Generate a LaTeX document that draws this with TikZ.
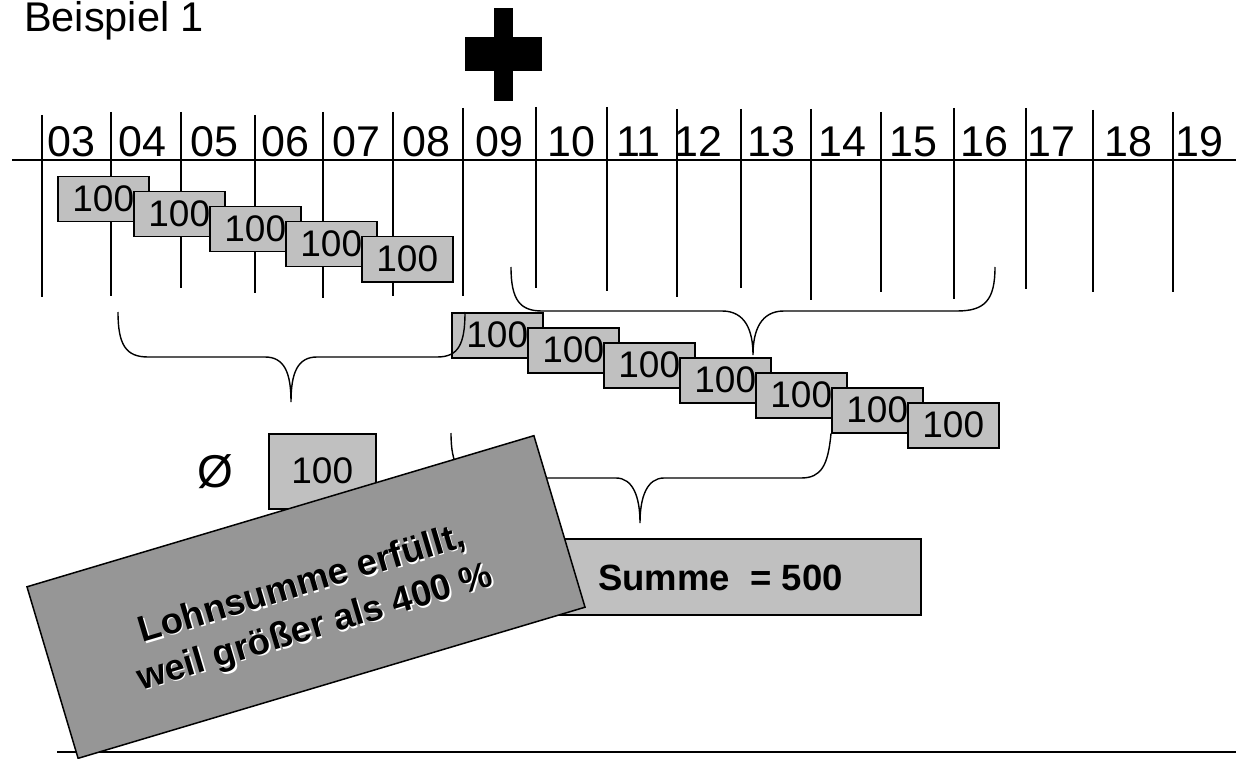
\documentclass[tikz,border=0pt]{standalone}
\usepackage{fontspec}
\setmainfont{Liberation Sans}
\usetikzlibrary{positioning}
\definecolor{boxgray}{HTML}{C0C0C0}
\definecolor{notegray}{HTML}{969696}
\newcommand{\titlesize}{\fontsize{41.5}{48}\selectfont}
\newcommand{\labsize}{\fontsize{43}{50}\selectfont}
\newcommand{\numsize}{\fontsize{37}{44}\selectfont}
\newcommand{\boldsize}{\fontsize{36.5}{45}\selectfont\bfseries}
\tikzset{tickline/.style = {line width=1.4pt}}
\tikzset{bracecurve/.style = {line width=1.4pt}}
\tikzset{numbox/.style = {draw, fill=boxgray, line width=1.5pt, minimum width=91pt, minimum height=45pt, inner sep=0, anchor=north west, font=\numsize}}
\tikzset{notebox/.style = {draw, fill=notegray, line width=1.5pt, minimum width=529pt, minimum height=179pt, inner sep=0}}
\tikzset{notetext/.style = {align=center, inner sep=0, font=\boldsize, rotate=16.6}}

\begin{document}
\begin{tikzpicture}[x=1pt,y=-1pt]
        \useasboundingbox (0,0) rectangle (1236,759);
        \node [anchor=base west, inner sep=0, font=\titlesize] (title) at (24,32) {Beispiel 1};
        % plus sign
        \fill (494,8) rectangle (513,101);
        \fill (465,37) rectangle (542,71);
        % time line
        \foreach \x/\t/\b/\lx/\lab in {42/115/297/47/03, 111/112/296/118/04, 181/112/288/190/05, 255/115/293/261/06,
            323/112/298/332/07, 393/112/296/402/08, 463/108/296/475/09, 536/107/288/547/10, 607/107/291/616/11,
            677/109/297/674/12, 741/109/288/747/13, 811/109/300/818/14, 881/112/292/889/15, 954/108/299/960/16,
            1026/108/289/1027/17, 1093/110/292/1104/18, 1173/112/292/1175/19}
        {
            \draw [tickline] (\x,\t) -- (\x,\b);
            \node [anchor=base west, inner sep=0, font=\labsize] (l\lab) at (\lx,157) {\lab};
        }
        \draw [tickline] (12,160) -- (1236,160);
        % months
        \foreach \i in {1,...,5}
            \node [numbox] (t\i) at ({57+76*(\i-1)},{176+15*(\i-1)}) {100};
        \foreach \i in {1,...,7}
            \node [numbox] (b\i) at ({451+76*(\i-1)},{312+15*(\i-1)}) {100};
        % braces
        \draw [bracecurve] (118,312) .. controls (118,345) and (126,357) .. (148,357) -- (265,357)
            .. controls (284,357) and (291,372) .. (291,402) .. controls (291,372) and (298,357) .. (317,357)
            -- (437,357) .. controls (458,357) and (465,345) .. (465,312);
        \draw [bracecurve] (511,267) .. controls (511,300) and (520,311) .. (542,311) -- (722,311)
            .. controls (745,311) and (753,330) .. (753,355) .. controls (753,330) and (761,311) .. (784,311)
            -- (957,311) .. controls (985,311) and (995,300) .. (995,267);
        \draw [bracecurve] (451,433) .. controls (451,466) and (460,478) .. (480,478) -- (616,478)
            .. controls (633,478) and (640,497) .. (640,523) .. controls (640,497) and (647,478) .. (664,478)
            -- (801,478) .. controls (821,478) and (828,466) .. (b6.south west);
        % average and sum
        \node [inner sep=0, font=\fontsize{46}{50}\selectfont] (avgsign) at (215.5,471.5) {Ø};
        \node [numbox, minimum width=107pt, minimum height=75pt] (avg) at (268,433) {100};
        \node [numbox, minimum width=420pt, minimum height=76pt] (sum) at (500,538) {};
        \node [anchor=base west, inner sep=0, font=\boldsize] (sumtext) at (598,590) {Summe\ \ = 500};
        \draw [line width=2.5pt] (57,752) -- (1236,752);
        % note
        \node [notebox, rotate=16.6] (note) at (306,597) {};
        \node [notetext, white] (noteshadow) at ([shift={(4.5,11.5)}]note.center) {Lohnsumme erfüllt,\\weil größer als 400 \%};
        \node [notetext] (notetxt) at ([shift={(3,10)}]note.center) {Lohnsumme erfüllt,\\weil größer als 400 \%};
    \end{tikzpicture}
\end{document}
